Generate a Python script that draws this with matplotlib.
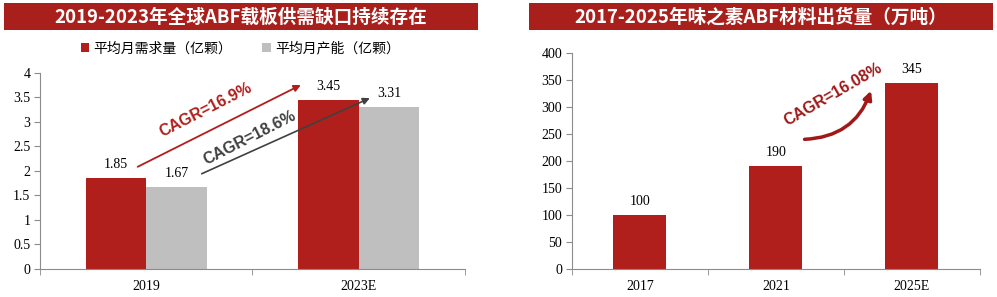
import matplotlib
matplotlib.use("Agg")
import matplotlib.pyplot as plt
from matplotlib.patches import Rectangle, Patch
import numpy as np

# ---------------- data ----------------
left_title = "2019-2023年全球ABF载板供需缺口持续存在"
left_categories = ["2019", "2023E"]
demand = [1.85, 3.45]
capacity = [1.67, 3.31]
demand_label = "平均月需求量（亿颗）"
capacity_label = "平均月产能（亿颗）"
left_yticks = [0, 0.5, 1, 1.5, 2, 2.5, 3, 3.5, 4]
left_yticklabels = ["0", "0.5", "1", "1.5", "2", "2.5", "3", "3.5", "4"]
cagr_demand = "CAGR=16.9%"
cagr_capacity = "CAGR=18.6%"

right_title = "2017-2025年味之素ABF材料出货量（万吨）"
right_categories = ["2017", "2021", "2025E"]
shipments = [100, 190, 345]
right_yticks = [0, 50, 100, 150, 200, 250, 300, 350, 400]
cagr_ship = "CAGR=16.08%"

# ---------------- style ----------------
RED = "#B01F1B"
BANNER = "#A91F1C"
GRAY = "#BFBFBF"
DGRAY = "#404040"
CJK = ["Noto Sans CJK SC", "DejaVu Sans"]
SERIF = ["Liberation Serif", "DejaVu Serif"]
SANS = ["Liberation Sans", "DejaVu Sans"]

plt.rcParams["font.family"] = CJK

fig = plt.figure(figsize=(9.97, 2.97), dpi=100)

# banners
for (x0, x1, title) in [(0.004, 0.4794, left_title), (0.5306, 0.996, right_title)]:
    fig.patches.append(Rectangle((x0, 0.899), x1 - x0, 0.0909, transform=fig.transFigure,
                                 facecolor=BANNER, edgecolor="none", zorder=0))
    fig.text((x0 + x1) / 2, 0.942, title, color="white", fontsize=13.4, fontweight="bold",
             ha="center", va="center", family=CJK)


def style_axes(ax, ncat):
    for s in ["top", "right"]:
        ax.spines[s].set_visible(False)
    for s in ["left", "bottom"]:
        ax.spines[s].set_color("#8C8C8C")
        ax.spines[s].set_linewidth(0.8)
    ax.set_xlim(-0.5, ncat - 0.5)
    ax.set_xticks(range(ncat))
    ax.set_xticks(np.arange(-0.5, ncat, 1.0), minor=True)
    ax.tick_params(axis="x", which="major", length=0, pad=8)
    ax.tick_params(axis="x", which="minor", length=4, direction="out", color="#8C8C8C")
    ax.tick_params(axis="y", length=4, direction="out", color="#8C8C8C", pad=3)
    for lab in ax.get_xticklabels() + ax.get_yticklabels():
        lab.set_family(SERIF)
        lab.set_fontsize(10)


# ---------------- left chart ----------------
axL = fig.add_axes([0.0401, 0.0943, 0.4263, 0.66])
x = np.arange(len(left_categories))
w = 0.285
axL.bar(x - w / 2, demand, w, color=RED, zorder=2)
axL.bar(x + w / 2, capacity, w, color=GRAY, zorder=2)
axL.set_ylim(0, 4)
axL.set_yticks(left_yticks)
axL.set_yticklabels(left_yticklabels)
axL.set_xticklabels(left_categories)
style_axes(axL, len(left_categories))

for xi, v in zip(x - w / 2, demand):
    axL.annotate(f"{v:.2f}", (xi, v), xytext=(0, 5), textcoords="offset points",
                 ha="center", va="bottom", fontsize=10, family=SERIF)
for xi, v in zip(x + w / 2, capacity):
    axL.annotate(f"{v:.2f}", (xi, v), xytext=(0, 5), textcoords="offset points",
                 ha="center", va="bottom", fontsize=10, family=SERIF)

axL.annotate("", xy=(0.739, 3.78), xytext=(-0.052, 2.06),
             arrowprops=dict(arrowstyle="-|>", color=RED, lw=1.3, mutation_scale=10))
axL.annotate("", xy=(1.064, 3.51), xytext=(0.249, 1.92),
             arrowprops=dict(arrowstyle="-|>", color=DGRAY, lw=1.2, mutation_scale=10))
axL.text(0.278, 3.24, cagr_demand, color=RED, fontsize=11.5, fontweight="bold",
         rotation=27, ha="center", va="center", rotation_mode="anchor", family=SANS)
axL.text(0.489, 2.67, cagr_capacity, color=DGRAY, fontsize=11.5, fontweight="bold",
         rotation=27, ha="center", va="center", rotation_mode="anchor", family=SANS)

handles = [Patch(facecolor=RED, edgecolor="none"), Patch(facecolor=GRAY, edgecolor="none")]
fig.legend(handles, [demand_label, capacity_label], loc="center", bbox_to_anchor=(0.241, 0.836),
           ncol=2, frameon=False, handlelength=0.6, handleheight=0.6,
           handletextpad=0.3, columnspacing=2.2, prop={"family": CJK, "size": 10})

# ---------------- right chart ----------------
axR = fig.add_axes([0.5737, 0.0943, 0.4092, 0.7272])
xr = np.arange(len(right_categories))
axR.bar(xr, shipments, 0.39, color=RED, zorder=2)
axR.set_ylim(0, 400)
axR.set_yticks(right_yticks)
axR.set_xticklabels(right_categories)
style_axes(axR, len(right_categories))
for xi, v in zip(xr, shipments):
    axR.annotate(f"{v}", (xi, v), xytext=(0, 5), textcoords="offset points",
                 ha="center", va="bottom", fontsize=10, family=SERIF)

axR.annotate("", xy=(1.706, 335), xytext=(1.19, 240),
             arrowprops=dict(arrowstyle="-|>", color="#A01818", lw=2.5, mutation_scale=12,
                             connectionstyle="arc3,rad=0.35"))
axR.text(1.42, 324, cagr_ship, color="#A01818", fontsize=11.5, fontweight="bold",
         rotation=30, ha="center", va="center", rotation_mode="anchor", family=SANS)

fig.savefig("out.png", dpi=100)
